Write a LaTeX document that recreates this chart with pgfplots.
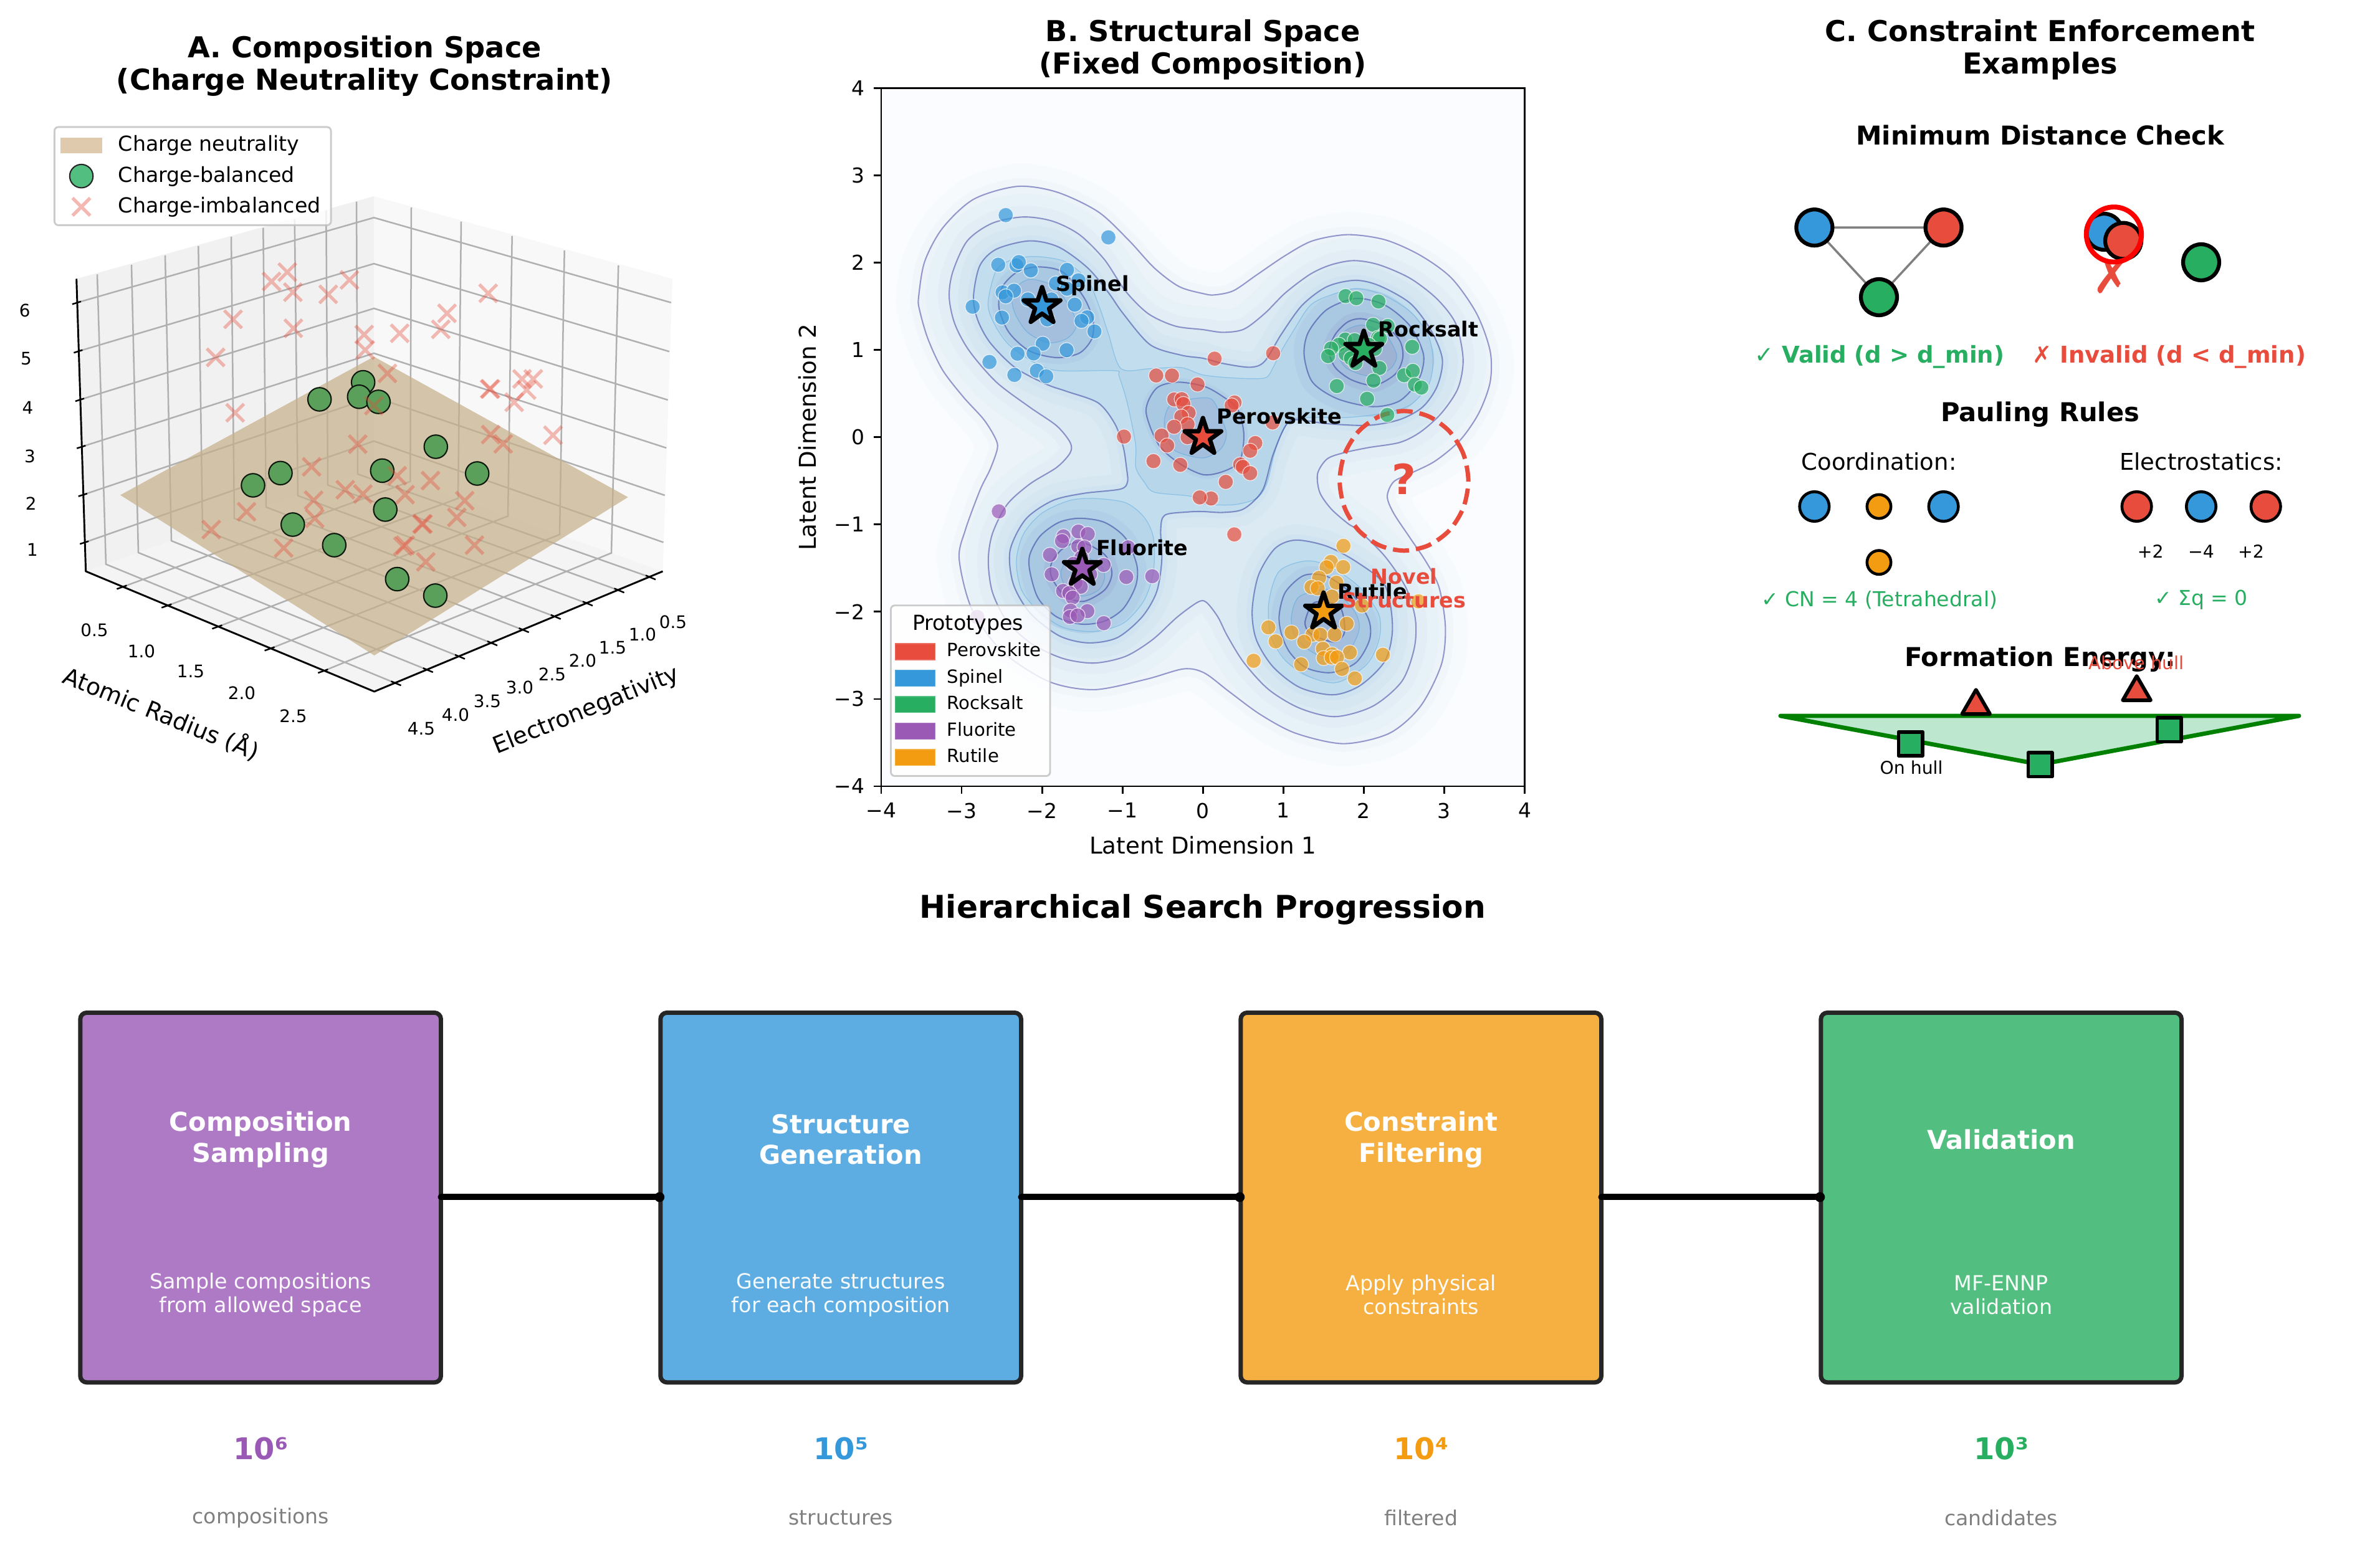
\documentclass[border=0pt]{standalone}
\usepackage{fontspec}
\setmainfont{DejaVu Sans}
\usepackage{pgfplots}
\usepackage{pgfplotstable}
\pgfplotsset{compat=1.18}

\definecolor{cred}{HTML}{E74C3C}
\definecolor{cblue}{HTML}{3498DB}
\definecolor{cgreen}{HTML}{27AE60}
\definecolor{cpurple}{HTML}{9B59B6}
\definecolor{corange}{HTML}{F39C12}
\definecolor{hullgreen}{RGB}{0,128,0}
\definecolor{planecol}{RGB}{198,176,138}
\definecolor{tancol}{RGB}{210,180,140}
\definecolor{gridcol}{RGB}{176,176,176}
\definecolor{ptgreen}{RGB}{90,160,90}
\definecolor{bgB}{HTML}{FAFCFF}
\definecolor{LA}{HTML}{F6FAFD}
\definecolor{LB}{HTML}{F1F6FB}
\definecolor{LC}{HTML}{ECF3F9}
\definecolor{LD}{HTML}{E7F1F8}
\definecolor{LE}{HTML}{E2EDF6}
\definecolor{LF}{HTML}{DCEAF3}
\definecolor{LG}{HTML}{D6E7F2}
\definecolor{LH}{HTML}{CFE3F0}
\definecolor{LI}{HTML}{C2DDEE}
\definecolor{LJ}{HTML}{B8D6EA}
\definecolor{LK}{HTML}{B1D0E7}
\definecolor{LL}{HTML}{A9C8E2}
\definecolor{LM}{HTML}{A3BFDD}
\definecolor{LN}{HTML}{9EB3D3}

\newcommand{\fs}[2]{\fontsize{#1bp}{#2bp}\selectfont}

\pgfdeclareplotmark{fstar}{%
  \pgfpathmoveto{\pgfpointpolar{90}{\pgfplotmarksize}}
  \pgfpathlineto{\pgfpointpolar{126}{0.382\pgfplotmarksize}}
  \pgfpathlineto{\pgfpointpolar{162}{\pgfplotmarksize}}
  \pgfpathlineto{\pgfpointpolar{198}{0.382\pgfplotmarksize}}
  \pgfpathlineto{\pgfpointpolar{234}{\pgfplotmarksize}}
  \pgfpathlineto{\pgfpointpolar{270}{0.382\pgfplotmarksize}}
  \pgfpathlineto{\pgfpointpolar{306}{\pgfplotmarksize}}
  \pgfpathlineto{\pgfpointpolar{342}{0.382\pgfplotmarksize}}
  \pgfpathlineto{\pgfpointpolar{18}{\pgfplotmarksize}}
  \pgfpathlineto{\pgfpointpolar{54}{0.382\pgfplotmarksize}}
  \pgfpathclose
  \pgfusepathqfillstroke}

% scatter points of panel B
\pgfplotstableread[row sep=\\]{x y\\
0.145 0.9\\ 0.873 0.962\\ -0.581 0.707\\ -0.385 0.707\\ -0.067 0.605\\ -0.357 0.433\\ -0.264 0.436\\ -0.243 0.381\\
-0.178 0.279\\ -0.269 0.236\\ -0.191 0.148\\ -0.359 0.119\\ -0.514 0.019\\ -0.444 -0.095\\ -0.191 0\\ -0.982 0.007\\
-0.615 -0.274\\ -0.282 -0.317\\ 0.393 0.398\\ 0.357 0.364\\ 0.866 0.169\\ 0.651 -0.067\\ 0.587 -0.155\\ 0.463 -0.312\\
0.496 -0.34\\ 0.587 -0.412\\ 0.284 -0.512\\ 0.101 -0.702\\ -0.04 -0.69\\ 0.39 -1.114\\}\ptRed
\pgfplotstableread[row sep=\\]{x y\\
-2.452 2.545\\ -1.176 2.29\\ -2.545 1.976\\ -2.318 1.969\\ -2.289 2.007\\ -2.14 1.912\\ -1.69 1.917\\ -1.548 1.798\\
-1.827 1.762\\ -1.69 1.702\\ -2.491 1.66\\ -2.349 1.679\\ -2.452 1.614\\ -2.863 1.495\\ -2.176 1.579\\ -1.884 1.579\\
-1.594 1.519\\ -2.499 1.371\\ -1.935 1.35\\ -1.439 1.374\\ -1.509 1.333\\ -1.349 1.212\\ -1.992 1.071\\ -2.305 0.957\\
-2.106 0.96\\ -1.695 0.998\\ -2.654 0.862\\ -2.065 0.762\\ -2.344 0.714\\ -1.948 0.698\\}\ptBlue
\pgfplotstableread[row sep=\\]{x y\\
1.773 1.617\\ 1.907 1.593\\ 2.183 1.555\\ 2.116 1.288\\ 2.297 1.274\\ 2.178 1.14\\ 2.2 1.131\\ 1.77 1.119\\
1.886 1.112\\ 1.69 1.06\\ 1.594 1.017\\ 1.556 0.929\\ 1.775 0.952\\ 1.84 0.905\\ 1.897 0.85\\ 2.059 1.06\\
2.137 1.012\\ 2.602 1.036\\ 2.194 0.793\\ 2.501 0.71\\ 2.61 0.76\\ 2.121 0.648\\ 1.664 0.586\\ 2.636 0.602\\
2.716 0.569\\ 2.041 0.44\\ 2.292 0.255\\}\ptGreen
\pgfplotstableread[row sep=\\]{x y\\
-2.537 -0.85\\ -1.734 -1.136\\ -1.752 -1.19\\ -1.548 -1.081\\ -1.432 -1.11\\ -1.55 -1.25\\ -1.473 -1.262\\ -1.902 -1.348\\
-0.93 -1.262\\ -1.512 -1.381\\ -1.61 -1.452\\ -1.235 -1.464\\ -1.881 -1.571\\ -1.403 -1.571\\ -0.953 -1.602\\ -0.63 -1.593\\
-1.584 -1.667\\ -1.519 -1.714\\ -1.739 -1.762\\ -1.661 -1.786\\ -1.62 -1.838\\ -1.646 -1.988\\ -1.437 -1.993\\ -1.654 -2.06\\
-1.558 -2.043\\ -1.233 -2.131\\ -2.806 -2.06\\}\ptPurple
\pgfplotstableread[row sep=\\]{x y\\
1.747 -1.245\\ 1.592 -1.429\\ 1.537 -1.49\\ 1.744 -1.488\\ 1.444 -1.612\\ 1.659 -1.667\\ 1.349 -1.717\\ 1.426 -1.731\\
1.605 -1.826\\ 1.977 -1.929\\ 2.68 -1.881\\ 1.788 -2.138\\ 1.362 -2.262\\ 1.46 -2.264\\ 1.638 -2.26\\ 1.101 -2.238\\
0.814 -2.179\\ 0.904 -2.34\\ 1.258 -2.345\\ 1.491 -2.424\\ 1.827 -2.467\\ 1.607 -2.488\\ 1.501 -2.531\\ 1.6 -2.524\\
1.667 -2.522\\ 2.238 -2.493\\ 0.63 -2.562\\ 1.22 -2.603\\ 1.729 -2.655\\ 1.889 -2.764\\}\ptOrange

% density contours of panel B, traced from the picture
\pgfplotstableread[row sep=\\]{x y\\
-3.535 1.607\\ -3.46 2.012\\ -3.24 2.393\\ -2.853 2.726\\ -2.31 2.874\\ -1.819 2.81\\ -1.302 2.583\\ -0.915 2.25\\
-0.605 1.94\\ -0.295 1.726\\ 0.016 1.643\\ 0.147 1.631\\ 0.38 1.679\\ 0.664 1.857\\ 1.026 2.083\\ 1.362 2.25\\
1.8 2.321\\ 2.266 2.262\\ 2.705 2.083\\ 3.093 1.821\\ 3.403 1.417\\ 3.571 0.988\\ 3.571 0.631\\ 3.429 0.274\\
3.196 -0.036\\ 2.886 -0.274\\ 2.576 -0.417\\ 2.37 -0.512\\ 2.292 -0.679\\ 2.37 -0.869\\ 2.576 -1.155\\ 2.783 -1.44\\
2.938 -1.726\\ 3.015 -2.179\\ 2.964 -2.607\\ 2.705 -3.083\\ 2.318 -3.393\\ 1.749 -3.512\\ 1.155 -3.393\\ 0.716 -3.179\\
0.328 -2.917\\ 0.018 -2.702\\ -0.24 -2.655\\ -0.705 -2.774\\ -1.351 -2.893\\ -1.92 -2.798\\ -2.5 -2.45\\ -2.876 -1.964\\
-3.031 -1.393\\ -2.953 -1.06\\ -2.772 -0.607\\ -2.646 -0.369\\ -2.556 -0.131\\ -2.581 -0.012\\ -2.724 0.202\\ -2.982 0.464\\
-3.24 0.774\\ -3.421 1.131\\ -3.525 1.464\\}\cOne
\pgfplotstableread[row sep=\\]{x y\\
-3.155 1.607\\ -3.111 1.893\\ -2.93 2.25\\ -2.62 2.452\\ -2.233 2.524\\ -1.871 2.476\\ -1.535 2.321\\ -1.225 2.036\\
-0.966 1.679\\ -0.682 1.417\\ -0.346 1.274\\ 0 1.233\\ 0.251 1.202\\ 0.509 1.238\\ 0.767 1.417\\ 1.026 1.655\\
1.336 1.869\\ 1.594 1.976\\ 1.879 2.024\\ 2.189 1.976\\ 2.576 1.821\\ 2.912 1.583\\ 3.145 1.298\\ 3.235 0.893\\
3.171 0.56\\ 2.964 0.274\\ 2.705 0.06\\ 2.447 -0.06\\ 2.059 -0.119\\ 1.749 -0.179\\ 1.543 -0.25\\ 1.426 -0.417\\
1.452 -0.631\\ 1.594 -0.821\\ 1.801 -0.988\\ 1.956 -1.083\\ 2.266 -1.369\\ 2.525 -1.726\\ 2.641 -2.083\\ 2.628 -2.417\\
2.473 -2.798\\ 2.111 -3.083\\ 1.646 -3.202\\ 1.207 -3.107\\ 0.819 -2.893\\ 0.509 -2.583\\ 0.302 -2.274\\ 0.186 -2.06\\
0.044 -1.893\\ -0.059 -1.888\\ -0.318 -2.06\\ -0.628 -2.321\\ -0.964 -2.512\\ -1.351 -2.588\\ -1.739 -2.536\\ -2.127 -2.369\\
-2.437 -2.107\\ -2.618 -1.774\\ -2.669 -1.417\\ -2.618 -1.107\\ -2.437 -0.774\\ -2.152 -0.536\\ -1.817 -0.345\\ -1.651 -0.179\\
-1.651 -0.06\\ -1.819 0.131\\ -2.155 0.345\\ -2.568 0.631\\ -2.904 0.988\\ -3.085 1.298\\}\cTwo
\pgfplotstableread[row sep=\\]{x y\\
-2.853 1.607\\ -2.775 1.964\\ -2.568 2.155\\ -2.155 2.25\\ -1.793 2.179\\ -1.432 1.94\\ -1.173 1.655\\ -0.992 1.417\\
-0.656 1.06\\ -0.269 0.94\\ 0 0.905\\ 0.251 0.845\\ 0.587 0.802\\ 0.767 0.869\\ 0.974 1.179\\ 1.233 1.512\\
1.543 1.726\\ 1.891 1.798\\ 2.189 1.738\\ 2.576 1.536\\ 2.835 1.226\\ 2.977 0.893\\ 2.912 0.583\\ 2.731 0.345\\
2.447 0.202\\ 2.059 0.136\\ 1.543 0.155\\ 1.155 0.202\\ 1.026 0.131\\ 0.871 -0.202\\ 0.742 -0.607\\ 0.509 -0.821\\
0.251 -0.862\\ 0 -0.852\\ -0.189 -0.857\\ -0.473 -0.893\\ -0.525 -1.06\\ -0.512 -1.417\\ -0.576 -1.774\\ -0.757 -2.06\\
-1.067 -2.298\\ -1.429 -2.357\\ -1.791 -2.274\\ -2.152 -2.012\\ -2.359 -1.679\\ -2.398 -1.298\\ -2.204 -0.94\\ -1.868 -0.726\\
-1.481 -0.643\\ -1.028 -0.595\\ -0.938 -0.512\\ -0.951 -0.345\\ -0.992 -0.107\\ -1.096 0.155\\ -1.302 0.393\\ -1.69 0.524\\
-1.948 0.607\\ -2.336 0.798\\ -2.646 1.083\\ -2.801 1.345\\}\cThree
\pgfplotstableread[row sep=\\]{x y\\
0.612 -1.988\\ 0.69 -1.583\\ 0.897 -1.274\\ 1.155 -1.179\\ 1.543 -1.25\\ 1.93 -1.44\\ 2.266 -1.702\\ 2.357 -2.179\\
2.266 -2.56\\ 1.956 -2.845\\ 1.62 -2.952\\ 1.207 -2.869\\ 0.871 -2.631\\ 0.664 -2.321\\}\rThree
\pgfplotstableread[row sep=\\]{x y\\
-2.672 1.536\\ -2.568 1.917\\ -2.362 2.036\\ -2.078 2.071\\ -1.716 2.012\\ -1.432 1.798\\ -1.276 1.464\\ -1.173 1.179\\
-1.018 0.786\\ -0.656 0.786\\ -0.269 0.798\\ 0 0.714\\ 0.38 0.679\\ 0.767 0.679\\ 0.871 0.798\\ 0.974 0.988\\
1.129 1.226\\ 1.336 1.512\\ 1.594 1.631\\ 1.905 1.702\\ 2.24 1.631\\ 2.576 1.44\\ 2.796 1.179\\ 2.861 0.893\\
2.809 0.607\\ 2.576 0.369\\ 2.24 0.274\\ 1.801 0.226\\ 1.336 0.226\\ 1.103 0.202\\ 0.974 0.036\\ 0.884 -0.202\\
0.793 -0.536\\ 0.664 -0.702\\ 0.38 -0.774\\ 0 -0.762\\ -0.137 -0.679\\ -0.602 -0.631\\ -0.731 -0.512\\ -0.835 -0.345\\
-0.837 -0.083\\ -0.941 0.393\\ -1.044 0.702\\ -1.096 0.762\\ -1.793 0.762\\ -2.078 0.845\\ -2.413 1.06\\ -2.594 1.298\\}\eMain
\pgfplotstableread[row sep=\\]{x y\\
-1.351 -0.702\\ -0.964 -0.75\\ -0.731 -0.917\\ -0.615 -1.155\\ -0.615 -1.536\\ -0.731 -1.869\\ -0.99 -2.131\\ -1.351 -2.226\\
-1.739 -2.179\\ -2.049 -1.988\\ -2.256 -1.75\\ -2.32 -1.417\\ -2.23 -1.107\\ -2.0 -0.869\\ -1.661 -0.726\\}\fOne
\pgfplotstableread[row sep=\\]{x y\\
-1.532 -0.929\\ -1.222 -0.976\\ -0.964 -1.155\\ -0.822 -1.464\\ -0.835 -1.702\\ -0.99 -1.964\\ -1.222 -2.107\\ -1.506 -2.143\\
-1.817 -2.06\\ -2.049 -1.845\\ -2.152 -1.536\\ -2.152 -1.345\\ -2.023 -1.131\\ -1.791 -0.976\\}\fFour
\pgfplotstableread[row sep=\\]{x y\\
-1.519 -1.202\\ -1.222 -1.345\\ -1.132 -1.56\\ -1.222 -1.75\\ -1.481 -1.881\\ -1.713 -1.821\\ -1.881 -1.607\\ -1.881 -1.44\\ -1.739 -1.274\\}\fFive
\pgfplotstableread[row sep=\\]{x y\\
-1.48 -1.369\\ -1.274 -1.464\\ -1.222 -1.607\\ -1.297 -1.75\\ -1.506 -1.821\\ -1.713 -1.702\\ -1.765 -1.536\\ -1.661 -1.393\\}\fSix
\pgfplotstableread[row sep=\\]{x y\\
1.904 1.59\\ 2.266 1.512\\ 2.576 1.274\\ 2.744 0.94\\ 2.68 0.655\\ 2.447 0.417\\ 2.111 0.35\\ 1.672 0.44\\
1.362 0.631\\ 1.258 0.94\\ 1.31 1.202\\ 1.543 1.464\\}\kFour
\pgfplotstableread[row sep=\\]{x y\\
1.982 1.357\\ 2.266 1.274\\ 2.447 1.107\\ 2.486 0.917\\ 2.395 0.726\\ 2.137 0.595\\ 1.853 0.655\\ 1.646 0.798\\
1.568 0.988\\ 1.646 1.179\\ 1.801 1.321\\}\kFive
\pgfplotstableread[row sep=\\]{x y\\
1.982 1.286\\ 2.266 1.179\\ 2.408 0.94\\ 2.318 0.774\\ 2.059 0.702\\ 1.775 0.798\\ 1.672 0.988\\ 1.749 1.202\\}\kSix
\pgfplotstableread[row sep=\\]{x y\\
-2.052 1.952\\ -1.742 1.893\\ -1.483 1.607\\ -1.367 1.345\\ -1.38 1.131\\ -1.535 0.964\\ -1.819 0.912\\ -2.155 0.988\\
-2.413 1.202\\ -2.537 1.488\\ -2.491 1.726\\ -2.31 1.893\\}\sFour
\pgfplotstableread[row sep=\\]{x y\\
-2.129 1.81\\ -1.845 1.726\\ -1.638 1.464\\ -1.574 1.274\\ -1.69 1.131\\ -1.922 1.083\\ -2.181 1.202\\ -2.336 1.417\\ -2.375 1.607\\ -2.284 1.75\\}\sFive
\pgfplotstableread[row sep=\\]{x y\\
-0.708 0.298\\ -0.579 0.56\\ -0.32 0.631\\ 0.016 0.583\\ 0.251 0.464\\ 0.432 0.321\\ 0.509 0.036\\ 0.457 -0.274\\
0.251 -0.393\\ 0 -0.429\\ -0.295 -0.298\\ -0.553 -0.083\\}\pFour
\pgfplotstableread[row sep=\\]{x y\\
-0.463 0.036\\ -0.475 0.226\\ -0.372 0.393\\ 0.016 0.452\\ 0.147 0.393\\ 0.289 0.06\\ 0.225 -0.131\\ 0 -0.238\\ -0.346 -0.155\\}\pFive
\pgfplotstableread[row sep=\\]{x y\\
0.819 -1.893\\ 0.948 -1.536\\ 1.284 -1.417\\ 1.594 -1.488\\ 1.956 -1.726\\ 2.189 -2.036\\ 2.189 -2.321\\ 2.034 -2.607\\
1.672 -2.81\\ 1.336 -2.75\\ 1.026 -2.56\\ 0.845 -2.274\\}\rEll
\pgfplotstableread[row sep=\\]{x y\\
0.948 -2.036\\ 1.026 -1.774\\ 1.258 -1.583\\ 1.543 -1.595\\ 1.853 -1.798\\ 2.059 -2.083\\ 2.072 -2.321\\ 1.904 -2.583\\
1.594 -2.698\\ 1.284 -2.643\\ 1.078 -2.464\\ 0.974 -2.25\\}\rFour
\pgfplotstableread[row sep=\\]{x y\\
1.103 -2.036\\ 1.207 -1.821\\ 1.594 -1.75\\ 1.879 -1.988\\ 1.943 -2.202\\ 1.8 -2.464\\ 1.543 -2.536\\ 1.284 -2.417\\ 1.129 -2.25\\}\rFive
\pgfplotstableread[row sep=\\]{x y\\
1.271 -2.107\\ 1.388 -1.893\\ 1.698 -1.94\\ 1.762 -2.226\\ 1.646 -2.345\\ 1.439 -2.298\\ 1.31 -2.226\\}\rSix

\newcommand{\band}[3]{\addplot[smooth cycle,fill=#2,draw=#2,line width=#3,line join=round] table {#1};}
\newcommand{\solid}[2]{\addplot[smooth cycle,fill=#2,draw=none] table {#1};}
\newcommand{\ctour}[1]{\addplot[smooth cycle,draw=blue!50!black,draw opacity=.38,line width=.5bp] table {#1};}
\newcommand{\fline}[1]{\addplot[smooth cycle,draw=cblue,draw opacity=.35,line width=.3bp] table {#1};}
\newcommand{\tickA}[3]{\node[font={\fs{6.67}{8}}] at (axis cs:#2,#3) {#1};}
\newcommand{\protoLab}[3]{\node[anchor=west,inner sep=0pt,font={\fs{8}{9.5}\bfseries}] at (axis cs:#2,#3) {#1};}
\newcommand{\stage}[6]{%
  \node[text=white,align=center,font={\fs{10}{11.9}\bfseries}] at (axis cs:#1,1829) {#2};
  \node[text=white,text opacity=.95,align=center,font={\fs{8}{9.1}}] at (axis cs:#1,2078.5) {#3};
  \node[text=#6,font={\fs{11.5}{13}\bfseries}] at (axis cs:#1,2325) {#4};
  \node[text=gray,font={\fs{7.95}{9}}] at (axis cs:#1,2436) {#5};
}

\pgfplotsset{
  pxaxis/.style={hide axis,scale only axis,clip=false,y dir=reverse},
}

\begin{document}
\begin{tikzpicture}
\path[use as bounding box] (0,0) rectangle (916.56bp,595.92bp);

% ---- A: 3D view, all positions are picture pixels of the perspective projection
\begin{axis}[pxaxis,at={(0,295.92bp)},anchor=south west,width=295.2bp,height=256.8bp,
  xmin=0,xmax=1230,ymin=180,ymax=1250,
  unbounded coords=jump,
  legend style={at={(0.0699,0.979)},anchor=north west,draw=lightgray,line width=.7bp,rounded corners=1.5bp,
    fill=white,fill opacity=.8,draw opacity=.8,text opacity=1,font={\fs{7.97}{9}},
    inner xsep=2bp,inner ysep=1.3bp,row sep=.3bp,column sep=3.9bp},
  legend cell align=left]
\addlegendimage{legend image code/.code={\fill[sharp corners,tancol,fill opacity=.7,draw opacity=0] (0bp,-3bp) rectangle (16bp,3bp);}}
\addlegendimage{legend image code/.code={\fill[cgreen!80!white,fill opacity=1,draw opacity=1,draw=black!85,line width=.5bp] (8bp,0bp) circle (4.5bp);}}
\addlegendimage{legend image code/.code={\draw[sharp corners,cred,draw opacity=.4,line width=1.3bp] (4.6bp,-3.4bp) -- (11.4bp,3.4bp) (4.6bp,3.4bp) -- (11.4bp,-3.4bp);}}
\legend{Charge neutrality,Charge-balanced,Charge-imbalanced}
% panes
\addplot[fill=black!5.5,draw=none] coordinates {(122.7,447.5)(600,315)(600,752)(137.7,917)} -- cycle;
\addplot[fill=black!2.7,draw=none] coordinates {(600,315)(1079,447.5)(1063.5,917)(600,752)} -- cycle;
\addplot[fill=black!4.2,draw=none] coordinates {(137.7,917)(600,752)(1063.5,917)(600.6,1110)} -- cycle;
% grid
\addplot[gridcol,line width=.6bp] coordinates {
 (156,440.4)(170,905.6)(633.5,1096)(nan,nan)
 (211,425)(222,887)(684.8,1074.8)(nan,nan)
 (265,410)(275,868)(736,1053.4)(nan,nan)
 (318.3,395)(325,850)(788,1031.8)(nan,nan)
 (371,380)(376,832)(838.6,1010.7)(nan,nan)
 (422.3,365.7)(427,814)(889.8,989.4)(nan,nan)
 (472.7,351.8)(478,795.6)(941,968)(nan,nan)
 (523.3,337.9)(526,778.5)(991.6,947)(nan,nan)
 (572,323.6)(574,761)(1042,926)(nan,nan)
 (660,333)(658.3,772.8)(197.4,941.8)(nan,nan)
 (740,355.7)(735,800)(269.3,971.8)(nan,nan)
 (821.7,378.6)(815,828.5)(350.4,1005.6)(nan,nan)
 (905.7,401.8)(898,858)(434.6,1040.7)(nan,nan)
 (992.3,426)(981,887.6)(520.3,1076.5)(nan,nan)
 (123.9,485.7)(600,349.3)(1076.7,485.7)(nan,nan)
 (126.4,563.6)(600,423.2)(1074,564.3)(nan,nan)
 (128.9,641.4)(600,495)(1071.7,642)(nan,nan)
 (131.3,717)(600,567)(1069.3,719)(nan,nan)
 (133.8,794)(600,637)(1066.7,795)(nan,nan)
 (136.2,870.5)(600,708)(1064.5,870.5)
};
% axes and ticks
\addplot[black,line width=.7bp,line join=round] coordinates {(122.7,447.5)(137.7,917)(600.6,1110)(1063.5,917)};
\addplot[black,line width=.6bp] coordinates {
 (187.4,945.4)(203.4,939.7)(nan,nan)(259.3,975.4)(275.3,969.7)(nan,nan)(340.4,1009.2)(356.4,1003.5)(nan,nan)
 (424.6,1044.3)(440.6,1038.6)(nan,nan)(510.3,1080.1)(526.3,1074.4)(nan,nan)
 (1036,923.5)(1052,930.2)(nan,nan)(985.6,944.5)(1001.6,951.2)(nan,nan)(935,965.5)(951,972.2)(nan,nan)
 (883.8,986.9)(899.8,993.6)(nan,nan)(832.6,1008.2)(848.6,1014.9)(nan,nan)(782,1029.3)(798,1036)(nan,nan)
 (730,1050.9)(746,1057.6)(nan,nan)(678.8,1072.3)(694.8,1079)(nan,nan)(627.5,1093.5)(643.5,1100.2)(nan,nan)
 (115.9,488.3)(129.9,483.9)(nan,nan)(118.4,566.2)(132.4,561.8)(nan,nan)(120.9,644)(134.9,639.6)(nan,nan)
 (123.3,719.6)(137.3,715.2)(nan,nan)(125.8,796.6)(139.8,792.2)(nan,nan)(128.2,873.1)(142.2,868.7)
};
% constraint plane
\addplot[fill=planecol,fill opacity=.7,draw=none] coordinates {(600,572.5)(1007.7,798)(600.6,1052)(193,794.6)} -- cycle;
% balanced points
\addplot[only marks,mark=*,mark size=4.5bp,mark options={fill=ptgreen,draw=black!85!ptgreen,line width=.5bp}] coordinates {
 (582.7,613.6)(576.3,636.8)(607.3,645)(512.7,641)(450,759.3)(406,779)(699.3,717)(613.3,755.4)(765.7,760)
 (618.2,817.9)(469.8,842)(536.3,875)(637.3,929.5)(698.5,956)};
% imbalanced points
\addplot[only marks,mark=x,mark size=4.8bp,mark options={draw=cred,draw opacity=.37,line width=1.25bp}] coordinates {
 (435.7,451.8)(461,436.8)(470,469)(526.7,472.5)(560.7,449.3)(374,512.5)(470.7,527)(346,573.6)(584.3,537)(586,561.8)
 (377.3,662.5)(574,712.9)(500,749.3)(554,786)(582.3,792.9)(503.3,802.9)(600,651)
 (783.3,470.7)(717.3,502.9)(707.3,528.6)(641.3,535)(621.7,599.3)(785.7,624.3)(787,624.3)(837.7,608.2)(855.7,608.2)(845,626)
 (825,645.7)(887.3,698.6)(787.3,697.5)(807.3,712.5)(637.3,763.6)(690.7,771.4)(650,793.9)(745.7,803.6)
 (395.6,821.4)(505,832)(339,850)(455.2,879.5)(733,830.4)(678.7,841)(677.1,841)(650.3,875)(646.5,876.8)(761.3,875)(683.2,901.8)};
% title, tick labels, axis labels
\node[align=center,font={\fs{11.1}{12.5}\bfseries}] at (axis cs:585,106) {A. Composition Space\\(Charge Neutrality Constraint)};
\tickA{6}{39.8}{498}\tickA{5}{42}{576}\tickA{4}{44.4}{654.5}\tickA{3}{48}{732}\tickA{2}{49.7}{808}\tickA{1}{52}{882}
\tickA{0.5}{151.5}{1011.6}\tickA{1.0}{227}{1045}\tickA{1.5}{306}{1078}\tickA{2.0}{388}{1112}\tickA{2.5}{470.5}{1149}
\tickA{0.5}{1080}{998}\tickA{1.0}{1031}{1018}\tickA{1.5}{983}{1040}\tickA{2.0}{935}{1060}\tickA{2.5}{886}{1082}
\tickA{3.0}{834}{1103}\tickA{3.5}{782}{1125}\tickA{4.0}{731}{1147}\tickA{4.5}{676}{1170}
\node[rotate=-22,font={\fs{9}{10}}] at (axis cs:259,1144) {Atomic Radius (Å)};
\node[rotate=22,font={\fs{9}{10}}] at (axis cs:941,1141) {Electronegativity};
\end{axis}

% ---- B: latent space
\begin{axis}[at={(339.36bp,293.04bp)},anchor=south west,scale only axis,width=247.8bp,height=268.92bp,
  xmin=-4,xmax=4,ymin=-4,ymax=4,clip=false,
  axis background/.style={fill=bgB},
  axis line style={line width=.67bp},
  xtick={-4,-3,-2,-1,0,1,2,3,4},xticklabels={−4,−3,−2,−1,0,1,2,3,4},
  ytick={-4,-3,-2,-1,0,1,2,3,4},yticklabels={−4,−3,−2,−1,0,1,2,3,4},
  xtick pos=bottom,ytick pos=left,tick align=outside,major tick length=2.9bp,
  tick style={black,line width=.67bp},
  tick label style={font={\fs{7.9}{9}}},
  label style={font={\fs{8.93}{10}}},
  xlabel={Latent Dimension 1},ylabel={Latent Dimension 2},
  title={B. Structural Space\\(Fixed Composition)},
  title style={align=center,font={\fs{11.1}{12.5}\bfseries},yshift=-6.2bp},
  legend style={at={(0.0136,0.0134)},anchor=south west,draw=lightgray,line width=.7bp,rounded corners=1.5bp,
    fill=white,fill opacity=.8,draw opacity=.8,text opacity=1,font={\fs{7}{8}},
    inner xsep=1.5bp,inner ysep=1.7bp,row sep=-.6bp,column sep=2.5bp},
  legend cell align=left]
\addlegendimage{empty legend}
\addlegendimage{legend image code/.code={\fill[sharp corners,cred,fill opacity=1] (0bp,-2.9bp) rectangle (15bp,2.9bp);}}
\addlegendimage{legend image code/.code={\fill[sharp corners,cblue,fill opacity=1] (0bp,-2.9bp) rectangle (15bp,2.9bp);}}
\addlegendimage{legend image code/.code={\fill[sharp corners,cgreen,fill opacity=1] (0bp,-2.9bp) rectangle (15bp,2.9bp);}}
\addlegendimage{legend image code/.code={\fill[sharp corners,cpurple,fill opacity=1] (0bp,-2.9bp) rectangle (15bp,2.9bp);}}
\addlegendimage{legend image code/.code={\fill[sharp corners,corange,fill opacity=1] (0bp,-2.9bp) rectangle (15bp,2.9bp);}}
\legend{{\fs{8}{9}\hspace*{-13.4bp}Prototypes},Perovskite,Spinel,Rocksalt,Fluorite,Rutile}
% filled density levels
\band{\cOne}{LA}{17.3bp}
\band{\cOne}{LB}{6.2bp}
\solid{\cOne}{LC}
\band{\cTwo}{LD}{17.8bp}
\band{\cTwo}{LE}{8.6bp}
\solid{\cTwo}{LF}
\band{\cThree}{LG}{12bp}
\band{\rThree}{LG}{12bp}
\band{\cThree}{LH}{4.3bp}
\band{\rThree}{LH}{4.3bp}
\solid{\cThree}{LI}
\solid{\rThree}{LI}
\solid{\eMain}{LJ}
\solid{\fOne}{LJ}
\solid{\rEll}{LJ}
\band{\fFour}{LK}{7bp}
\band{\rFour}{LK}{6bp}
\band{\sFour}{LK}{5bp}
\band{\kFour}{LK}{8bp}
\band{\pFour}{LK}{3bp}
\solid{\fFour}{LL}
\solid{\rFour}{LL}
\solid{\sFour}{LL}
\solid{\kFour}{LL}
\solid{\pFour}{LL}
\band{\fFive}{LM}{5bp}
\band{\kFive}{LM}{5bp}
\solid{\rFive}{LM}
\solid{\sFive}{LM}
\solid{\pFive}{LM}
\solid{\fFive}{LM}
\solid{\kFive}{LM}
\solid{\fSix}{LN!60!LM}
\solid{\kSix}{LN}
\solid{\rSix}{LN!60!LM}
% contour lines
\fline{\eMain}
\fline{\fOne}
\fline{\rEll}
\fline{\rFive}
\fline{\sFive}
\fline{\pFive}
\fline{\fSix}
\fline{\kSix}
\ctour{\cOne}
\ctour{\cTwo}
\ctour{\cThree}
\ctour{\rThree}
\ctour{\fFour}
\ctour{\rFour}
\ctour{\sFour}
\ctour{\kFour}
\ctour{\pFour}
\ctour{\fFive}
\ctour{\kFive}
\ctour{\rSix}
% points
\addplot[only marks,mark=*,mark size=2.9bp,mark options={fill=cred,draw=white,opacity=.7,line width=.3bp}] table {\ptRed};
\addplot[only marks,mark=*,mark size=2.9bp,mark options={fill=cblue,draw=white,opacity=.7,line width=.3bp}] table {\ptBlue};
\addplot[only marks,mark=*,mark size=2.9bp,mark options={fill=cgreen,draw=white,opacity=.7,line width=.3bp}] table {\ptGreen};
\addplot[only marks,mark=*,mark size=2.9bp,mark options={fill=cpurple,draw=white,opacity=.7,line width=.3bp}] table {\ptPurple};
\addplot[only marks,mark=*,mark size=2.9bp,mark options={fill=corange,draw=white,opacity=.7,line width=.3bp}] table {\ptOrange};
% prototype centres
\addplot[only marks,mark=fstar,mark size=7.4bp,mark options={fill=cred,draw=black,line width=1.67bp,line join=round}] coordinates {(0,0)};
\addplot[only marks,mark=fstar,mark size=7.4bp,mark options={fill=cblue,draw=black,line width=1.67bp,line join=round}] coordinates {(-2,1.5)};
\addplot[only marks,mark=fstar,mark size=7.4bp,mark options={fill=cgreen,draw=black,line width=1.67bp,line join=round}] coordinates {(2,1)};
\addplot[only marks,mark=fstar,mark size=7.4bp,mark options={fill=cpurple,draw=black,line width=1.67bp,line join=round}] coordinates {(-1.5,-1.5)};
\addplot[only marks,mark=fstar,mark size=7.4bp,mark options={fill=corange,draw=black,line width=1.67bp,line join=round}] coordinates {(1.5,-2)};
% novel region
\addplot[smooth cycle,draw=cred,line width=1.67bp,dash pattern=on 6.2bp off 2.7bp] coordinates {
 (3.3,-0.5)(3.239,-0.194)(3.066,0.066)(2.806,0.239)(2.5,0.3)(2.194,0.239)(1.934,0.066)(1.761,-0.194)
 (1.7,-0.5)(1.761,-0.806)(1.934,-1.066)(2.194,-1.239)(2.5,-1.3)(2.806,-1.239)(3.066,-1.066)(3.239,-0.806)};
\end{axis}
% labels of panel B go in an axis of their own, since marks are drawn over an axis's nodes
\begin{axis}[at={(339.36bp,293.04bp)},anchor=south west,scale only axis,width=247.8bp,height=268.92bp,
  xmin=-4,xmax=4,ymin=-4,ymax=4,clip=false,hide axis]
\protoLab{Spinel}{-1.832}{1.739}
\protoLab{Perovskite}{0.168}{0.24}
\protoLab{Rocksalt}{2.176}{1.24}
\protoLab{Fluorite}{-1.332}{-1.267}
\protoLab{Rutile}{1.672}{-1.766}
\node[text=cred,font={\fs{16}{18}\bfseries}] at (axis cs:2.5,-0.48) {?};
\node[text=cred,align=center,font={\fs{8}{9.1}\bfseries}] at (axis cs:2.5,-1.73) {Novel\\Structures};
\end{axis}

% ---- C: constraint sketches, in picture pixels
\begin{axis}[pxaxis,at={(667.2bp,283.92bp)},anchor=south west,width=240bp,height=312bp,
  xmin=2780,xmax=3780,ymin=0,ymax=1300]
\addplot[gray,line width=.85bp] coordinates {(2911.4,365.2)(3118.6,365.2)(3015,477)(2911.4,365.2)};
\addplot[only marks,mark=*,mark size=6.95bp,mark options={fill=cblue,draw=black,line width=1.5bp}] coordinates {(2911.4,365.2)};
\addplot[only marks,mark=*,mark size=6.95bp,mark options={fill=cred,draw=black,line width=1.5bp}] coordinates {(3118.6,365.2)};
\addplot[only marks,mark=*,mark size=6.95bp,mark options={fill=cgreen,draw=black,line width=1.5bp}] coordinates {(3015,477)};
\addplot[only marks,mark=*,mark size=6.95bp,mark options={fill=cblue,draw=black,line width=1.5bp}] coordinates {(3376.4,372)};
\addplot[only marks,mark=*,mark size=6.95bp,mark options={fill=cred,draw=black,line width=1.5bp}] coordinates {(3407,386.7)};
\addplot[only marks,mark=*,mark size=6.95bp,mark options={fill=cgreen,draw=black,line width=1.5bp}] coordinates {(3532,421)};
\addplot[only marks,mark=o,mark size=10.6bp,mark options={draw=red,line width=1.9bp}] coordinates {(3392,376.4)};
% pauling rules
\addplot[only marks,mark=*,mark size=5.7bp,mark options={fill=cblue,draw=black,line width=1.1bp}] coordinates {(2911.4,813)(3118.6,813)(3532,813)};
\addplot[only marks,mark=*,mark size=4.6bp,mark options={fill=corange,draw=black,line width=1.1bp}] coordinates {(3015,813)(3015,902.7)};
\addplot[only marks,mark=*,mark size=5.7bp,mark options={fill=cred,draw=black,line width=1.1bp}] coordinates {(3428.6,813)(3635.7,813)};
% hull
\addplot[fill=cgreen!30!white,draw=none] coordinates {(2857,1149)(3273.6,1227)(3689,1149)} -- cycle;
\addplot[hullgreen,line width=1.65bp,line join=round,line cap=round] coordinates {(2857,1149)(3689,1149)(3273.6,1227)(2857,1149)};
\addplot[only marks,mark=square*,mark size=4.6bp,mark options={fill=cgreen,draw=black,line width=1.4bp,line join=round}] coordinates {(3065.7,1193.8)(3273.6,1227.4)(3480.7,1171.4)};
\addplot[only marks,mark=triangle*,mark size=6.2bp,mark options={fill=cred,draw=black,line width=1.4bp,line join=round}] coordinates {(3170.7,1133)(3428.6,1111)};
\node[align=center,font={\fs{11.1}{12.5}\bfseries}] at (axis cs:3273.6,80) {C. Constraint Enforcement\\Examples};
\node[font={\fs{10}{11}\bfseries}] at (axis cs:3273.6,217) {Minimum Distance Check};
\node[text=cred,font={\fs{18}{19}\bfseries}] at (axis cs:3389,443) {✗};
\node[text=cgreen,font={\fs{8.9}{10}\bfseries}] at (axis cs:3015.7,573) {✓ Valid (d > d\_min)};
\node[text=cred,font={\fs{8.9}{10}\bfseries}] at (axis cs:3480.7,573) {✗ Invalid (d < d\_min)};
\node[font={\fs{10}{11}\bfseries}] at (axis cs:3273.6,665) {Pauling Rules};
\node[font={\fs{8.88}{10}}] at (axis cs:3015,740.7) {Coordination:};
\node[font={\fs{8.88}{10}}] at (axis cs:3532,740.7) {Electrostatics:};
\node[font={\fs{6.8}{8}}] at (axis cs:3450.7,885.4) {+2};
\node[font={\fs{6.8}{8}}] at (axis cs:3532,885.4) {−4};
\node[font={\fs{6.8}{8}}] at (axis cs:3612,885.4) {+2};
\node[text=cgreen,font={\fs{7.93}{9}}] at (axis cs:3015.7,963) {✓ CN = 4 (Tetrahedral)};
\node[text=cgreen,font={\fs{7.93}{9}}] at (axis cs:3532,963) {✓ Σq = 0};
\node[font={\fs{10}{11}\bfseries}] at (axis cs:3273.6,1057.7) {Formation Energy:};
\node[text=cred,font={\fs{6.93}{8}}] at (axis cs:3428,1063.7) {Above hull};
\node[font={\fs{6.8}{8}}] at (axis cs:3067,1231.7) {On hull};
\end{axis}

% ---- D: search funnel, in picture pixels
\begin{axis}[pxaxis,at={(0,0)},anchor=south west,width=916.56bp,height=259.92bp,
  xmin=0,xmax=3819,ymin=1400,ymax=2483]
\addplot[fill=cpurple!80!white,draw=black!85,line width=1.67bp,rounded corners=2.5bp] coordinates {(128.8,1625.4)(707.5,1625.4)(707.5,2218.8)(128.8,2218.8)} -- cycle;
\addplot[fill=cblue!80!white,draw=black!85,line width=1.67bp,rounded corners=2.5bp] coordinates {(1059.8,1625.4)(1638.5,1625.4)(1638.5,2218.8)(1059.8,2218.8)} -- cycle;
\addplot[fill=corange!80!white,draw=black!85,line width=1.67bp,rounded corners=2.5bp] coordinates {(1990.8,1625.4)(2569.5,1625.4)(2569.5,2218.8)(1990.8,2218.8)} -- cycle;
\addplot[fill=cgreen!80!white,draw=black!85,line width=1.67bp,rounded corners=2.5bp] coordinates {(2921.8,1625.4)(3500.5,1625.4)(3500.5,2218.8)(2921.8,2218.8)} -- cycle;
\addplot[black,line width=2.4bp,line cap=round] coordinates {(707.5,1921.4)(1058.3,1921.4)};
\addplot[black,line width=2.4bp,line cap=round] coordinates {(1638.5,1921.4)(1989.3,1921.4)};
\addplot[black,line width=2.4bp,line cap=round] coordinates {(2569.5,1921.4)(2920.3,1921.4)};
\addplot[only marks,mark=*,mark size=1.7bp,black] coordinates {(1058.3,1921.4)(1989.3,1921.4)(2920.3,1921.4)};
\node[font={\fs{12.06}{14}\bfseries}] at (axis cs:1930,1460) {Hierarchical Search Progression};
\stage{418.2}{Composition\\Sampling}{Sample compositions\\from allowed space}{10⁶}{compositions}{cpurple}
\stage{1349.2}{Structure\\Generation}{Generate structures\\for each composition}{10⁵}{structures}{cblue}
\stage{2280.2}{Constraint\\Filtering}{Apply physical\\constraints}{10⁴}{filtered}{corange}
\stage{3211.2}{Validation}{MF-ENNP\\validation}{10³}{candidates}{cgreen}
\end{axis}
\end{tikzpicture}
\end{document}
